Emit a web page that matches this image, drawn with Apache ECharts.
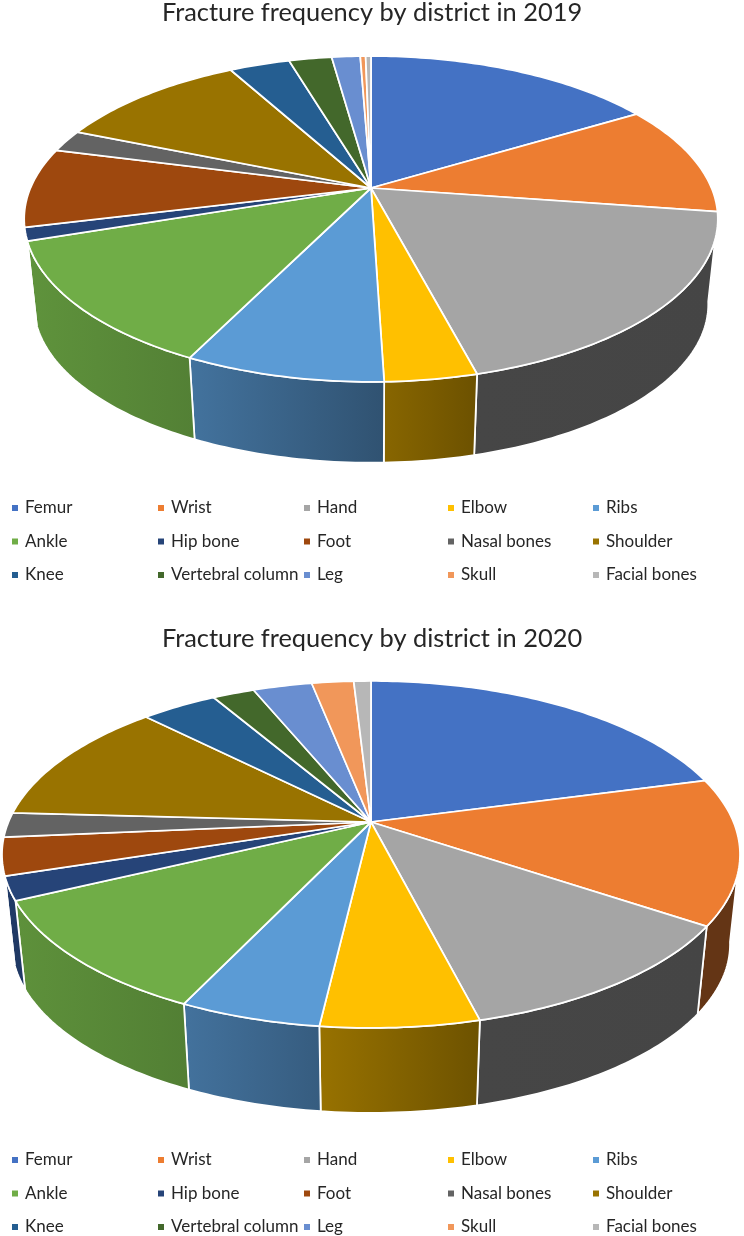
<!DOCTYPE html>
<html>
<head>
<meta charset="utf-8">
<title>Fracture frequency by district</title>
<script src="https://cdn.jsdelivr.net/npm/echarts@6/dist/echarts.min.js"></script>
<style>
    html, body { margin: 0; padding: 0; background: #fff; }
    #chart { width: 744px; height: 1236px; }
</style>
</head>
<body>
<div id="chart"></div>
<script>
const districts = ['Femur', 'Wrist', 'Hand', 'Elbow', 'Ribs', 'Ankle', 'Hip bone', 'Foot',
    'Nasal bones', 'Shoulder', 'Knee', 'Vertebral column', 'Leg', 'Skull', 'Facial bones'];
const colors = ['#4472C4', '#ED7D31', '#A5A5A5', '#FFC000', '#5B9BD5', '#70AD47', '#264478', '#9E480E',
    '#636363', '#997300', '#255E91', '#43682B', '#698ED0', '#F1975A', '#B7B7B7'];

// 図から読み取った割合(%)
const values2019 = [16.4, 11.0, 18.6, 3.6, 7.8, 12.6, 1.3, 7.9, 2.2, 10.8, 3.4, 2.4, 1.6, 0.3, 0.3];
const values2020 = [20.8, 13.6, 11.6, 5.8, 5.2, 10.8, 2.2, 3.5, 2.3, 11.7, 4.0, 2.2, 3.1, 2.2, 0.9];

const titles = ['Fracture frequency by district in 2019', 'Fracture frequency by district in 2020'];

// 透視投影の設定
const view2019 = { cx: 371, cy: 188, a: 340.5, b: 157, k: 0.19, shrink: 0.9725, vanishY: 3323 };
const view2020 = { cx: 371, cy: 822, a: 362.5, b: 167.4, k: 0.187, shrink: 0.973, vanishY: 4175 };

const FONT = 'Lato, "Open Sans", sans-serif';
const legendColumns = [12, 158, 304, 448, 593];

function topPoint(view, deg) {
    const rad = deg * Math.PI / 180;
    const u = Math.sin(rad);
    const v = -Math.cos(rad);
    const w = 1 - view.k * v;
    return [view.cx + view.a * u / w, view.cy + view.b * v / w];
}

function bottomPoint(view, deg) {
    const p = topPoint(view, deg);
    return [
        view.cx + (p[0] - view.cx) * view.shrink,
        view.vanishY + (p[1] - view.vanishY) * view.shrink
    ];
}

function arcAngles(from, to) {
    const list = [];
    for (let d = from; d < to; d += 1) {
        list.push(d);
    }
    list.push(to);
    return list;
}

// 側面の明るさ(角度で変わる)
function sideShade(deg) {
    const stops = [[0, 0.42], [165, 0.42], [178, 0.53], [206, 0.74], [250, 0.85], [360, 0.85]];
    for (let i = 1; i < stops.length; i++) {
        if (deg <= stops[i][0]) {
            const t = (deg - stops[i - 1][0]) / (stops[i][0] - stops[i - 1][0]);
            return stops[i - 1][1] + t * (stops[i][1] - stops[i - 1][1]);
        }
    }
    return 0.85;
}

function shadeColor(hex, f) {
    const n = parseInt(hex.slice(1), 16);
    const r = Math.round(((n >> 16) & 255) * f);
    const g = Math.round(((n >> 8) & 255) * f);
    const b = Math.round((n & 255) * f);
    return `rgb(${r},${g},${b})`;
}

function makeRenderItem(view, color) {
    return function (params, api) {
        const start = api.value(0);
        const end = api.value(1);
        const children = [];

        // 手前に見える範囲だけ側面を描く
        const from = Math.max(start, 100);
        const to = Math.min(end, 260);
        if (from < to) {
            const angles = arcAngles(from, to);
            const points = angles.map(d => topPoint(view, d))
                .concat(angles.slice().reverse().map(d => bottomPoint(view, d)));
            children.push({
                type: 'polygon',
                z2: 1,
                shape: { points: points },
                style: {
                    fill: {
                        type: 'linear', x: 0, y: 0, x2: 1, y2: 0,
                        colorStops: [
                            { offset: 0, color: shadeColor(color, sideShade(to)) },
                            { offset: 1, color: shadeColor(color, sideShade(from)) }
                        ]
                    },
                    stroke: '#fff',
                    lineWidth: 1.75
                }
            });
        }

        const rim = arcAngles(start, end).map(d => topPoint(view, d));
        children.push({
            type: 'polygon',
            z2: 5,
            shape: { points: [[view.cx, view.cy]].concat(rim) },
            style: { fill: color, stroke: '#fff', lineWidth: 1.75, lineJoin: 'round' }
        });

        return { type: 'group', children: children };
    };
}

function buildSeries(values, view) {
    const total = values.reduce((s, v) => s + v, 0);
    let sum = 0;
    return values.map((value, i) => {
        const start = sum / total * 360;
        sum += value;
        const end = sum / total * 360;
        return {
            type: 'custom',
            name: districts[i],
            coordinateSystem: 'none',
            silent: true,
            itemStyle: { color: colors[i] },
            renderItem: makeRenderItem(view, colors[i]),
            data: [[start, end]]
        };
    });
}

function buildLegends(top) {
    return legendColumns.map((left, col) => ({
        orient: 'vertical',
        left: left,
        top: top,
        padding: 0,
        icon: 'rect',
        itemWidth: 6,
        itemHeight: 6,
        itemGap: 16.5,
        selectedMode: false,
        textStyle: {
            fontFamily: FONT,
            fontSize: 17,
            color: '#262626',
            padding: [0, 0, 0, 2]
        },
        data: [districts[col], districts[col + 5], districts[col + 10]]
    }));
}

const chart = echarts.init(document.getElementById('chart'));

chart.setOption({
    backgroundColor: '#fff',
    animation: false,
    title: [
        {
            text: titles[0], left: 'center', top: 0, padding: 0,
            textStyle: { fontFamily: FONT, fontSize: 25.4, fontWeight: 'normal', color: '#262626' }
        },
        {
            text: titles[1], left: 'center', top: 626, padding: 0,
            textStyle: { fontFamily: FONT, fontSize: 25.4, fontWeight: 'normal', color: '#262626' }
        }
    ],
    legend: buildLegends(499.5).concat(buildLegends(1151.5)),
    series: buildSeries(values2019, view2019).concat(buildSeries(values2020, view2020))
});
</script>
</body>
</html>
